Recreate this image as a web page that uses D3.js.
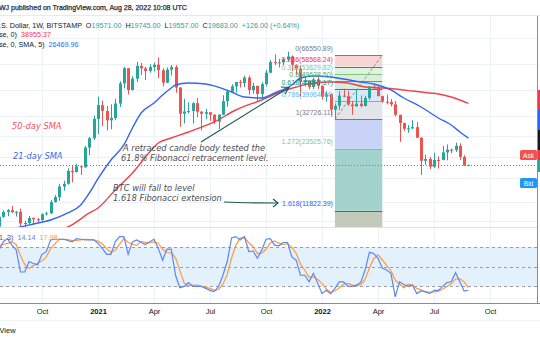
<!DOCTYPE html>
<html><head><meta charset="utf-8">
<script src="https://cdnjs.cloudflare.com/ajax/libs/d3/7.8.5/d3.min.js"></script>
<style>
html,body{margin:0;padding:0;background:#fff;overflow:hidden}
svg{display:block;font-family:"Liberation Sans",Arial,sans-serif}
</style></head><body>
<svg id="chart" width="540" height="340"></svg>
<script>
// ---- weekly BTC/USD candles, first week starts 2020-07-27 ----
const firstWeek = Date.UTC(2020, 6, 27);
const opens  = [9930,11070,11680,11910,11650,11700,10270,10330,10930,10770,10680,11390,11500,13030,13780,15480,15960,18420,18180,19360,19170,23850,26440,32780,38150,35800,32260,33110,38850,48600,57500,45150,51200,59000,57350,55800,58200,59800,56200,49000,56600,58200,46400,34700,35600,35800,39000,35500,34700,35300,34300,31800,34300,39900,44400,47000,49300,48800,51800,45100,47300,43200,48200,54700,61500,61000,61300,63300,65500,59700,57200,49400,50100,46700,50800,47300,41900,43100,36300,37900,42400,42200,38400,37700,38800,37800,41300,46800,46400,42200,39700,39500,38500,34300,31300,29400,29500,29900,26600,20600,21000,19300,20800,20790,22600,23300,23200,24300,21500,19571];
const highs  = [12100,11900,12070,12470,11800,12090,10600,11180,10980,10950,11490,11720,13350,14080,15960,16490,18960,19420,19900,19420,24280,26800,34000,41950,40100,37850,38500,40950,49700,58350,57500,52600,61700,61000,58400,60200,61200,64900,57500,58000,59600,59500,46600,40900,39400,39400,41300,35700,36600,35300,34600,34500,42600,45300,48100,49400,50500,52800,52900,48800,47300,49200,56500,62900,67000,63700,64300,69000,66300,59900,59200,51900,50200,51800,52100,47500,44500,43500,38900,44500,45800,44700,40000,45400,42500,42300,47000,48200,47200,42400,42900,40800,40000,34300,31400,30600,32300,31700,26800,22000,21500,22500,21600,24300,24700,23600,25200,25000,21900,19745];
const lows   = [9900,10950,11130,11560,11100,9900,9880,10230,10150,10380,10530,11220,11420,12960,13220,14800,15800,16200,18100,17600,19000,21900,25900,27700,30300,28800,29240,32300,37400,46000,43000,44900,49300,53300,50400,54700,55400,51500,47000,48800,53000,43800,30000,31200,34800,31100,33400,28800,32700,32100,31000,29300,34200,37500,43900,43900,46400,46600,42800,43400,39600,40800,46900,54400,59500,57900,59400,62300,55600,53300,42000,46900,45500,45600,45700,40600,39700,34000,32900,36300,41700,38000,34300,37500,37200,37600,40500,45200,42100,39200,38500,37600,33700,25400,28700,28100,29300,26550,17600,19700,18800,19000,18900,20700,20700,22400,22700,20800,19550,19557];
const closes = [11070,11680,11910,11650,11700,10270,10330,10930,10770,10680,11390,11500,13030,13780,15480,15960,18420,18180,19360,19170,23850,26440,32780,38150,35800,32260,33110,38850,48600,57500,45150,51200,59000,57350,55800,58200,59800,56200,49000,56600,58200,46400,34700,35600,35800,39000,35500,34700,35300,34300,31800,34300,39900,44400,47000,49300,48800,51800,45100,47300,43200,48200,54700,61500,61000,61300,63300,65500,59700,57200,49400,50100,46700,50800,47300,41900,43100,36300,37900,42400,42200,38400,37700,38800,37800,41300,46800,46400,42200,39700,39500,38500,34300,31300,29400,29500,29900,26600,20600,21000,19300,20800,20790,22600,23300,23200,24300,21500,19557,19683];

// ---- moving averages (week number from first candle, value) ----
const sma21Weeks  = [2,5,8,12,16,19,21,23,26,29,31,33,36,38,40,41,44,48,54,57,61,64,68,70,73,77,80,84,87,91,94,98,102,105,107,109];
const sma21Values = [9500,9885,10220,10680,11550,12620,14410,16900,20780,24540,29630,34990,39090,42720,46160,47720,48790,48260,44160,41770,41310,43670,47720,51570,52730,52150,51000,49330,48260,45150,41310,37400,33100,30630,28340,26469.96];
const sma50Weeks  = [14,16,21,23,27,31,35,37,40,44,50,55,61,66,69,73,77,81,85,89,92,96,100,102,105,109];
const sma50Values = [9600,9885,11550,12200,14900,17990,22710,25090,26510,28340,31670,36170,40410,44660,46670,48790,49330,48790,46670,46160,45650,44660,43670,43190,41770,38955.37];

// ---- stochastic %K / %D per week ----
const stochK = [76,88,93,83,76,42,42,58,55,53,69,73,91,92,92,92,90,88,93,92,91,91,91,86,78,69,69,88,96,96,69,88,91,87,84,88,92,78,60,77,77,37,18,20,26,20,20,20,17,14,12,20,37,58,94,96,91,96,73,74,63,75,92,93,83,82,87,87,65,60,37,37,27,40,25,9,14,9,17,27,27,20,20,22,26,45,72,70,63,48,45,40,4,27,23,20,22,9,13,12,9,14,14,20,26,27,41,27,13,14.14];
const stochD = [82,84,85.7,88,84,67,53.3,47.3,51.7,55.3,59,65,77.7,85.3,91.7,92,91.3,90,90.3,91,92,91.3,91,89.3,85,77.7,72,75.3,84.3,93.3,87,84.3,82.7,88.7,87.3,86.3,88,86,76.7,71.7,71.3,63.7,44,25,21.3,22,22,20,19,17,14.3,15.3,23,38.3,63,82.7,93.7,94.3,86.7,81,70,70.7,76.7,86.7,89.3,86,84,85.3,79.7,70.7,54,44.7,33.7,34.7,30.7,24.7,16,10.7,13.3,17.7,23.7,24.7,22.3,20.7,22.7,31,47.7,62.3,68.3,60.3,52,44.3,29.7,23.7,18,23.3,21.7,17,14.7,11.3,11.3,11.7,12.3,16,20,24.3,31.3,31.7,27,17.98];

// ---- Fibonacci retracement drawn between two weeks ----
const fibWeeks  = [78, 89];
const fibLevels = ["0","0.236","0.382","0.5","0.618","0.786","1","1.272","1.618"];
const fibPrices = [66550.89,58568.24,53629.82,49638.50,45647.17,39964.44,32726.11,23525.76,11822.39];
const fibColors = ["#787b86","#f23645","#81c784","#4caf50","#089981","#64b5f6","#787b86","#81c784","#2962ff"];
const fibFills  = ["#fad3d5","#e1f1df","#dcefda","#d5ece3","#d9e8f8","#e4e5e9","#c9d3f7","#a4d3cd","#c2cbbb"];

// ---- axes ----
const tickDates  = [Date.UTC(2020,9,5),Date.UTC(2021,0,4),Date.UTC(2021,3,5),Date.UTC(2021,6,5),Date.UTC(2021,9,4),Date.UTC(2022,0,3),Date.UTC(2022,3,4),Date.UTC(2022,6,4),Date.UTC(2022,9,3)];
const tickLabels = ["Oct","2021","Apr","Jul","Oct","2022","Apr","Jul","Oct"];
const gridPrices = [80000,60000,45000,34000,27000,21500,17000,13000,10600];
const lastPrice = 19683;

const svg = d3.select("#chart");
const W = 540, plotR = 537;
const mainTop = 16, mainBot = 227.5, stTop = 228, stBot = 303;

const weekDate = k => new Date(firstWeek + k * 7 * 864e5);
const x = d3.scaleUtc().domain([new Date(Date.UTC(2020,9,5)), new Date(Date.UTC(2022,9,3))]).range([42, 490]);
const y = d3.scaleLog().domain([9830, 102560]).range([mainBot, mainTop]);
const ys = d3.scaleLinear().domain([0, 100]).range([299.5, 234]);
const xw = k => x(weekDate(k));

const defs = svg.append("defs");
defs.append("clipPath").attr("id","clipMain").append("rect").attr("x",0).attr("y",mainTop).attr("width",plotR).attr("height",mainBot-mainTop);
defs.append("clipPath").attr("id","clipSt").append("rect").attr("x",0).attr("y",stTop).attr("width",plotR).attr("height",stBot-stTop);

// grid
const grid = svg.append("g");
grid.selectAll("line.v").data(tickDates).join("line")
  .attr("x1",d=>Math.round(x(new Date(d)))+0.5).attr("x2",d=>Math.round(x(new Date(d)))+0.5)
  .attr("y1",mainTop).attr("y2",stBot).attr("stroke","#eef1f7").attr("stroke-width",1);
grid.selectAll("line.h").data(gridPrices).join("line")
  .attr("x1",0).attr("x2",plotR).attr("y1",d=>Math.round(y(d))+0.5).attr("y2",d=>Math.round(y(d))+0.5)
  .attr("stroke","#eef1f7").attr("stroke-width",1);
svg.append("line").attr("x1",0).attr("x2",W).attr("y1",15.5).attr("y2",15.5).attr("stroke","#e6e9f0");

// main pane
const main = svg.append("g").attr("clip-path","url(#clipMain)");

// Fibonacci bands (each band spans from one level to the next, the last one runs to the pane bottom)
const fx1 = xw(fibWeeks[0]), fx2 = xw(fibWeeks[1]);
const bandEdges = fibPrices.map(p => y(p)).concat([mainBot + 2]);
main.selectAll("rect.band").data(d3.range(fibFills.length)).join("rect")
  .attr("x",fx1).attr("width",fx2-fx1)
  .attr("y",i=>bandEdges[i]).attr("height",i=>bandEdges[i+1]-bandEdges[i])
  .attr("fill",i=>fibFills[i]);
main.selectAll("line.fib").data(fibPrices).join("line")
  .attr("x1",fx1).attr("x2",fx2).attr("y1",d=>Math.round(y(d))+0.5).attr("y2",d=>Math.round(y(d))+0.5)
  .attr("stroke",(d,i)=>fibColors[i]).attr("stroke-width",1);
main.append("line").attr("x1",fx1).attr("y1",y(fibPrices[6])).attr("x2",fx2).attr("y2",y(fibPrices[0]))
  .attr("stroke","#8a8d96").attr("stroke-dasharray","3,2").attr("stroke-width",1);

// current price line
main.append("line").attr("x1",0).attr("x2",plotR).attr("y1",Math.round(y(lastPrice))+0.5).attr("y2",Math.round(y(lastPrice))+0.5)
  .attr("stroke","#26a69a").attr("stroke-dasharray","1,2").attr("stroke-width",1);

// candles
const up = "#26a69a", dn = "#ef5350";
const cg = main.append("g");
opens.forEach((o,k) => {
  const c = closes[k], h = highs[k], l = lows[k];
  const cx = Math.round(xw(k)) + 0.5;
  const col = c >= o ? up : dn;
  cg.append("line").attr("x1",cx).attr("x2",cx).attr("y1",y(h)).attr("y2",y(l)).attr("stroke",col).attr("stroke-width",1);
  const top = y(Math.max(o,c)), bot = y(Math.min(o,c));
  cg.append("rect").attr("x",cx-1.5).attr("width",3).attr("y",top).attr("height",Math.max(1,bot-top)).attr("fill",col);
});

// moving averages
const maLine = d3.line().x(d=>xw(d[0])).y(d=>y(d[1])).curve(d3.curveMonotoneX);
main.append("path").attr("d",maLine(sma50Weeks.map((w,i)=>[w,sma50Values[i]])))
  .attr("fill","none").attr("stroke","#f0424c").attr("stroke-width",1.4);
main.append("path").attr("d",maLine(sma21Weeks.map((w,i)=>[w,sma21Values[i]])))
  .attr("fill","none").attr("stroke","#3366f2").attr("stroke-width",1.4);

// fib labels
svg.append("g").selectAll("text").data(fibPrices).join("text")
  .attr("x",fx1-2).attr("y",d=>y(d)-4.5).attr("text-anchor","end")
  .attr("font-size",7).attr("fill",(d,i)=>fibColors[i])
  .text((d,i)=>`${fibLevels[i]}(${d3.format(".2f")(d)})`);

// annotations
const ann = svg.append("g").attr("font-family","DejaVu Sans, sans-serif").attr("font-style","italic").attr("font-size",8.3);
ann.append("text").attr("x",12).attr("y",129).attr("fill","#f0525a").text("50-day SMA");
ann.append("text").attr("x",13).attr("y",159).attr("fill","#3a6ae8").text("21-day SMA");
ann.append("text").attr("x",123).attr("y",151).attr("fill","#4a4d57").text("A retraced candle body tested the");
ann.append("text").attr("x",121).attr("y",161).attr("fill","#4a4d57").text("61.8% Fibonacci retracement level.");
ann.append("text").attr("x",113).attr("y",191).attr("fill","#4a4d57").text("BTC will fall to level");
ann.append("text").attr("x",113).attr("y",201).attr("fill","#4a4d57").text("1.618 Fibonacci extension");
const arrowCol = "#1f5c49";
svg.append("path").attr("d","M201,142 L288,88").attr("stroke",arrowCol).attr("stroke-width",1.2).attr("fill","none");
svg.append("path").attr("d","M281,87 L289,87.5 L285,94").attr("stroke",arrowCol).attr("stroke-width",1.2).attr("fill","none");
svg.append("path").attr("d","M224,202 C240,203 260,203 278,203").attr("stroke",arrowCol).attr("stroke-width",1.2).attr("fill","none");
svg.append("path").attr("d","M273,199 L278,203 L273,207").attr("stroke",arrowCol).attr("stroke-width",1.2).attr("fill","none");

// pane separator
svg.append("line").attr("x1",0).attr("x2",plotR).attr("y1",227.5).attr("y2",227.5).attr("stroke","#e0e3eb");

// stochastic pane
const st = svg.append("g").attr("clip-path","url(#clipSt)");
st.append("rect").attr("x",0).attr("width",plotR).attr("y",ys(80)).attr("height",ys(20)-ys(80)).attr("fill","#e3f1fc");
[80,50,20].forEach(v => st.append("line").attr("x1",0).attr("x2",plotR).attr("y1",Math.round(ys(v))+0.5).attr("y2",Math.round(ys(v))+0.5)
  .attr("stroke","#9a9da6").attr("stroke-dasharray","3,3").attr("stroke-width",1));
const stLine = d3.line().x((d,k)=>xw(k)).y(d=>ys(d));
st.append("path").attr("d",stLine(stochD)).attr("fill","none").attr("stroke","#ff9a3c").attr("stroke-width",1.2);
st.append("path").attr("d",stLine(stochK)).attr("fill","none").attr("stroke","#5d86f5").attr("stroke-width",1.2);
svg.append("line").attr("x1",0).attr("x2",plotR).attr("y1",298.5).attr("y2",298.5).attr("stroke","#eef1f7");

// time axis
svg.append("line").attr("x1",0).attr("x2",W).attr("y1",303.5).attr("y2",303.5).attr("stroke","#8a8d96");
svg.append("line").attr("x1",537.5).attr("x2",537.5).attr("y1",16).attr("y2",303.5).attr("stroke","#8a8d96");
const xAxis = d3.axisBottom(x).tickValues(tickDates.map(d=>new Date(d))).tickFormat((d,i)=>tickLabels[i]).tickSize(0);
const ax = svg.append("g").attr("transform","translate(0,305.5)").call(xAxis);
ax.select(".domain").remove();
ax.selectAll("text").attr("font-size",7.5).attr("fill","#131722").attr("font-family","Liberation Sans, Arial, sans-serif")
  .attr("font-weight",(d,i)=>/^\d{4}$/.test(tickLabels[i]) ? "bold" : "normal");
svg.append("line").attr("x1",0).attr("x2",W).attr("y1",320.5).attr("y2",320.5).attr("stroke","#f0f2f6");

// header and legends
const txt = svg.append("g").attr("font-size",7.2).attr("fill","#131722");
txt.append("text").attr("x",-1).attr("y",10).attr("font-size",7).attr("fill","#2a2e39")
  .attr("stroke","#2a2e39").attr("stroke-width",0.25)
  .text("WJ published on TradingView.com, Aug 28, 2022 10:08 UTC");
const l1 = txt.append("text").attr("x",-1).attr("y",27.5).attr("xml:space","preserve");
l1.append("tspan").text(".S. Dollar, 1W, BITSTAMP  O");
[["19571.00","  H"],["19745.00","  L"],["19557.00","  C"],["19683.00","  "],["+126.00 (+0.64%)",""]].forEach(([v,n])=>{
  l1.append("tspan").attr("fill","#26a69a").text(v);
  if (n) l1.append("tspan").text(n);
});
const l2 = txt.append("text").attr("x",-1).attr("y",36.5).attr("xml:space","preserve");
l2.append("tspan").text("se, 0)  ");
l2.append("tspan").attr("fill","#f23645").text("38955.37");
const l3 = txt.append("text").attr("x",-1).attr("y",46.5).attr("xml:space","preserve");
l3.append("tspan").text("se, 0, SMA, 5)  ");
l3.append("tspan").attr("fill","#2962ff").text("26469.96");
const l4 = txt.append("text").attr("x",-1).attr("y",239.5).attr("xml:space","preserve");
l4.append("tspan").attr("fill","#50535e").text("1, 3)  ");
l4.append("tspan").attr("fill","#5d86f5").text("14.14");
l4.append("tspan").text("  ");
l4.append("tspan").attr("fill","#ff9a3c").text("17.98");
txt.append("text").attr("x",-0.5).attr("y",333).attr("font-size",7.5).text("View");

// Ask / Bid tags and price-axis edge
svg.append("rect").attr("x",520).attr("y",150).attr("width",17).attr("height",10).attr("rx",1.5).attr("fill","#ef5350");
svg.append("text").attr("x",528.5).attr("y",157.5).attr("text-anchor","middle").attr("font-size",6.5).attr("fill","#fff").text("Ask");
svg.append("rect").attr("x",520).attr("y",178).attr("width",17).attr("height",10).attr("rx",1.5).attr("fill","#2196f3");
svg.append("text").attr("x",528.5).attr("y",185.5).attr("text-anchor","middle").attr("font-size",6.5).attr("fill","#fff").text("Bid");
[[90,110,"#f23645"],[110,130,"#2962ff"],[130,150,"#131722"],[150,160,"#f23645"],[160,172,"#26a69a"]].forEach(([a,b,c])=>
  svg.append("rect").attr("x",538).attr("y",a).attr("width",2).attr("height",b-a).attr("fill",c));
</script>
</body></html>
